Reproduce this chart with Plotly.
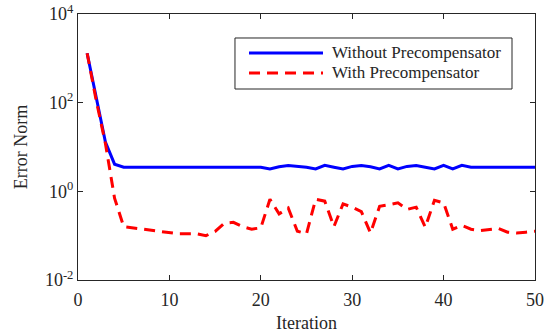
import plotly.graph_objects as go

iterations = list(range(1, 51))
without_pre = [1300, 120, 13, 4.1, 3.5, 3.5, 3.52, 3.5, 3.5, 3.5,
               3.5, 3.5, 3.5, 3.5, 3.5, 3.5, 3.5, 3.5, 3.5, 3.5,
               3.2, 3.6, 3.8, 3.65, 3.5, 3.2, 3.85, 3.5, 3.2, 3.65,
               3.8, 3.6, 3.2, 3.85, 3.2, 3.65, 3.8, 3.5, 3.2, 3.85,
               3.2, 3.85, 3.5, 3.5, 3.5, 3.5, 3.5, 3.5, 3.5, 3.5]
with_pre = [1300, 110, 12, 0.7, 0.16, 0.15, 0.14, 0.13, 0.125, 0.115,
            0.11, 0.11, 0.11, 0.1, 0.125, 0.19, 0.2, 0.16, 0.14, 0.15,
            0.66, 0.31, 0.42, 0.126, 0.11, 0.66, 0.6, 0.16, 0.52, 0.44,
            0.35, 0.115, 0.46, 0.5, 0.55, 0.39, 0.44, 0.155, 0.63, 0.55,
            0.14, 0.17, 0.14, 0.13, 0.14, 0.145, 0.12, 0.115, 0.12, 0.126]

series_names = ["Without Precompensator", "With Precompensator"]
series_colors = ["#0000ff", "#ff0000"]
series_dash = ["solid", "11px,7px"]

y_tickvals = [1e-2, 1e0, 1e2, 1e4]
y_ticktext = ["10<sup>-2</sup>", "10<sup>0</sup>", "10<sup>2</sup>", "10<sup>4</sup>"]
x_tickvals = [0, 10, 20, 30, 40, 50]

font = "Liberation Serif"
txt = "#262626"

fig = go.Figure()
for ys, name, col, dash in zip([without_pre, with_pre], series_names, series_colors, series_dash):
    fig.add_trace(go.Scatter(x=iterations, y=ys, mode="lines", name=name,
                             line=dict(color=col, width=3, dash=dash), showlegend=False))

axis_common = dict(showline=True, linecolor=txt, linewidth=1, mirror="ticks",
                   ticks="inside", ticklen=5, tickcolor=txt, showgrid=False,
                   zeroline=False, automargin=False,
                   tickfont=dict(family=font, size=18, color=txt))

# manual legend (paper coordinates)
shapes = [dict(type="rect", xref="paper", yref="paper", x0=0.3435, x1=0.9497,
               y0=0.718, y1=0.9098, line=dict(color=txt, width=1), fillcolor="white",
               layer="above")]
annotations = []
leg_y = [0.8534, 0.7782]
for name, col, dash, ly in zip(series_names, series_colors, series_dash, leg_y):
    shapes.append(dict(type="line", xref="paper", yref="paper", x0=0.3742, x1=0.5361,
                       y0=ly, y1=ly, line=dict(color=col, width=3, dash=dash), layer="above"))
    annotations.append(dict(xref="paper", yref="paper", x=0.5514, y=ly, text=name,
                            showarrow=False, xanchor="left", yanchor="middle",
                            font=dict(family=font, size=17, color=txt)))

fig.update_layout(
    width=552, height=333,
    margin=dict(l=78, r=17, t=14, b=53),
    paper_bgcolor="white", plot_bgcolor="white",
    font=dict(family=font, size=17, color=txt),
    xaxis=dict(range=[0, 50], tickvals=x_tickvals, ticklabelstandoff=3,
               title=dict(text="Iteration", font=dict(family=font, size=18, color=txt), standoff=8),
               **axis_common),
    yaxis=dict(type="log", range=[-2, 4], tickvals=y_tickvals, ticktext=y_ticktext,
               title=dict(text="Error Norm", font=dict(family=font, size=18, color=txt), standoff=12),
               **axis_common),
    shapes=shapes,
    annotations=annotations,
    showlegend=False,
)

fig.write_html("out.html")
